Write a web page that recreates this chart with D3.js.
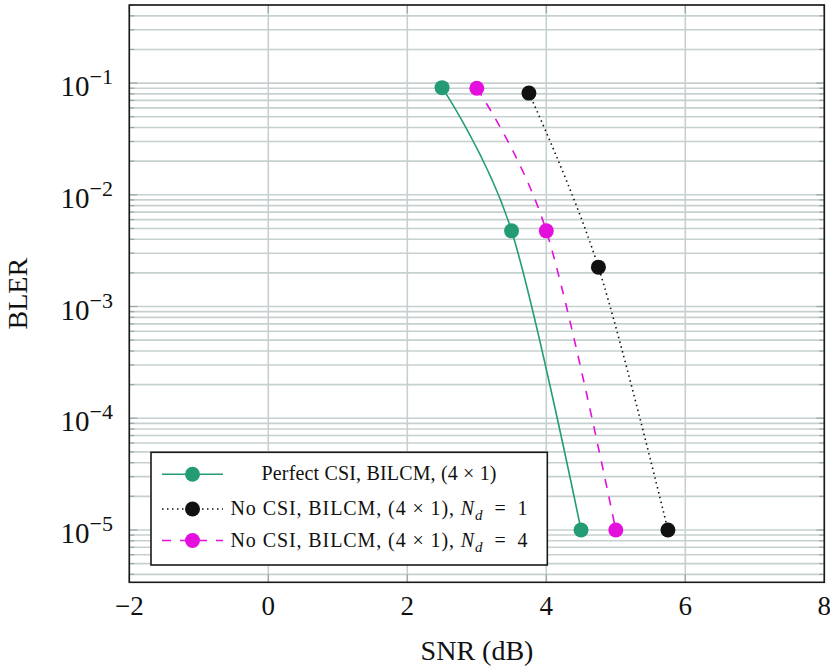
<!DOCTYPE html>
<html>
<head>
<meta charset="utf-8">
<script src="https://cdn.jsdelivr.net/npm/d3@7"></script>
<style>
  body { margin: 0; background: #fff; }
  svg text { font-family: "Liberation Serif", "DejaVu Serif", serif; fill: #111; }
</style>
</head>
<body>
<script>
// data
const perfectSnr = [2.5, 3.5, 4.5];
const perfectBler = [0.091, 0.00476, 1e-5];
const nd1Snr = [3.75, 4.75, 5.75];
const nd1Bler = [0.0814, 0.00225, 1e-5];
const nd4Snr = [3, 4, 5];
const nd4Bler = [0.09, 0.00476, 1e-5];
const xTicks = [-2, 0, 2, 4, 6, 8];
const yTicks = [-5, -4, -3, -2, -1]; // exponents

const series = [
  { name: "perfect", snr: perfectSnr, bler: perfectBler, color: "#239c76", dash: null },
  { name: "nd1", snr: nd1Snr, bler: nd1Bler, color: "#111", dash: "1.5,3.5" },
  { name: "nd4", snr: nd4Snr, bler: nd4Bler, color: "#e40fdc", dash: "9,9" },
];

const W = 830, H = 668;
const margin = { left: 129.3, right: 5.7, top: 5, bottom: 85.7 };

const svg = d3.select("body").append("svg").attr("width", W).attr("height", H);

const x = d3.scaleLinear().domain([-2, 8]).range([margin.left, W - margin.right]);
const y = d3.scaleLog().domain([3.4e-6, 0.5]).range([H - margin.bottom, margin.top]);

const gridColor = "#c6d0d0";

// minor y grid
const minors = [];
for (let e = -6; e <= 0; e++) {
  for (let m = 1; m <= 9; m++) {
    const v = m * Math.pow(10, e);
    if (v >= y.domain()[0] && v <= y.domain()[1]) minors.push(v);
  }
}
svg.append("g")
  .selectAll("line")
  .data(minors)
  .join("line")
  .attr("x1", x.range()[0]).attr("x2", x.range()[1])
  .attr("y1", (d) => y(d)).attr("y2", (d) => y(d))
  .attr("stroke", gridColor)
  .attr("stroke-width", 1.6);

// x grid
svg.append("g")
  .selectAll("line")
  .data(xTicks)
  .join("line")
  .attr("x1", (d) => x(d)).attr("x2", (d) => x(d))
  .attr("y1", y.range()[0]).attr("y2", y.range()[1])
  .attr("stroke", gridColor)
  .attr("stroke-width", 1.6);

// tick marks (inside)
const tickG = svg.append("g").attr("stroke", "#9aa5a5").attr("stroke-width", 1.2);
minors.forEach((v) => {
  const major = Math.abs(Math.log10(v) - Math.round(Math.log10(v))) < 1e-9;
  const len = major ? 8 : 5;
  tickG.append("line").attr("x1", x.range()[0]).attr("x2", x.range()[0] + len).attr("y1", y(v)).attr("y2", y(v));
  tickG.append("line").attr("x1", x.range()[1]).attr("x2", x.range()[1] - len).attr("y1", y(v)).attr("y2", y(v));
});
xTicks.forEach((v) => {
  tickG.append("line").attr("x1", x(v)).attr("x2", x(v)).attr("y1", y.range()[0]).attr("y2", y.range()[0] - 8);
  tickG.append("line").attr("x1", x(v)).attr("x2", x(v)).attr("y1", y.range()[1]).attr("y2", y.range()[1] + 8);
});

// curves (smooth, like pgfplots)
const line = d3.line()
  .x((d) => x(d[0]))
  .y((d) => y(d[1]))
  .curve(d3.curveCardinal.tension(0));

const plotG = svg.append("g");
series.forEach((s) => {
  const pts = s.snr.map((v, i) => [v, s.bler[i]]);
  plotG.append("path")
    .attr("d", line(pts))
    .attr("fill", "none")
    .attr("stroke", s.color)
    .attr("stroke-width", 1.6)
    .attr("stroke-dasharray", s.dash);
  plotG.selectAll(null)
    .data(pts)
    .join("circle")
    .attr("cx", (d) => x(d[0]))
    .attr("cy", (d) => y(d[1]))
    .attr("r", 7.5)
    .attr("fill", s.color);
});

// frame
svg.append("rect")
  .attr("x", x.range()[0]).attr("y", y.range()[1])
  .attr("width", x.range()[1] - x.range()[0])
  .attr("height", y.range()[0] - y.range()[1])
  .attr("fill", "none")
  .attr("stroke", "#1a1a1a")
  .attr("stroke-width", 1.6);

// tick labels
svg.append("g")
  .selectAll("text")
  .data(xTicks)
  .join("text")
  .attr("x", (d) => x(d))
  .attr("y", 615)
  .attr("text-anchor", "middle")
  .attr("font-size", 27)
  .text((d) => (d < 0 ? "\u2212" + Math.abs(d) : d));

yTicks.forEach((e) => {
  const t = svg.append("text")
    .attr("x", 113)
    .attr("y", y(Math.pow(10, e)) + 13)
    .attr("text-anchor", "end")
    .attr("font-size", 29);
  t.append("tspan").text("10");
  t.append("tspan").attr("font-size", 22).attr("dy", -12).text("\u2212" + Math.abs(e));
});

// axis labels
svg.append("text")
  .attr("x", 477).attr("y", 660)
  .attr("text-anchor", "middle")
  .attr("font-size", 28)
  .text("SNR (dB)");
svg.append("text")
  .attr("transform", `translate(27,${(y.range()[0] + y.range()[1]) / 2}) rotate(-90)`)
  .attr("text-anchor", "middle")
  .attr("font-size", 28)
  .text("BLER");

// legend
const lg = svg.append("g");
lg.append("rect")
  .attr("x", 151).attr("y", 452.3)
  .attr("width", 396.3).attr("height", 112.7)
  .attr("fill", "#fff")
  .attr("stroke", "#1a1a1a")
  .attr("stroke-width", 1.6);

const legendRows = [474.3, 509, 540.5];
series.forEach((s, i) => {
  const cy = legendRows[i];
  lg.append("line")
    .attr("x1", 162).attr("x2", 223)
    .attr("y1", cy).attr("y2", cy)
    .attr("stroke", s.color)
    .attr("stroke-width", 1.6)
    .attr("stroke-dasharray", s.dash);
  lg.append("circle").attr("cx", 192.5).attr("cy", cy).attr("r", 7.5).attr("fill", s.color);
});

function legendText(i, len) {
  return lg.append("text")
    .attr("x", 379)
    .attr("y", legendRows[i] + 6)
    .attr("text-anchor", "middle")
    .attr("font-size", 20)
    .attr("textLength", len);
}
legendText(0, 235).text("Perfect CSI, BILCM, (4 \u00d7 1)");
[1, 2].forEach((i) => {
  const t = legendText(i, 297);
  t.append("tspan").text("No CSI, BILCM, (4 \u00d7 1), ");
  t.append("tspan").attr("font-style", "italic").text("N");
  t.append("tspan").attr("font-size", 15).attr("font-style", "italic").attr("dy", 5).text("d");
  t.append("tspan").attr("dy", -5).text("\u2002=\u2002" + (i === 1 ? 1 : 4));
});
</script>
</body>
</html>
